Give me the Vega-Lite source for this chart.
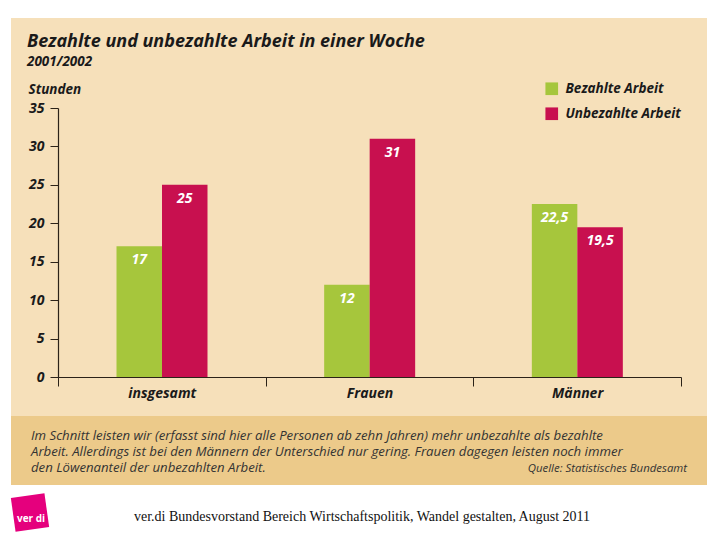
{
  "$schema": "https://vega.github.io/schema/vega-lite/v6.json",
  "background": "white",
  "padding": {"left": 10, "top": 18, "right": 14, "bottom": 0},
  "spacing": 0,
  "bounds": "flush",
  "config": {
    "view": {"stroke": null},
    "font": "Open Sans",
    "axis": {"domainColor": "#2b2218", "tickColor": "#2b2218", "labelColor": "#1a1a1a", "titleColor": "#1a1a1a"}
  },
  "vconcat": [
    {
      "width": 696,
      "height": 398,
      "view": {"fill": "#f6e0ba", "stroke": null},
      "title": {
        "text": "Bezahlte und unbezahlte Arbeit in einer Woche",
        "subtitle": "2001/2002",
        "anchor": "start",
        "frame": "group",
        "orient": "top",
        "offset": -50,
        "dx": 16,
        "font": "Open Sans",
        "fontSize": 18,
        "fontWeight": "bold",
        "fontStyle": "italic",
        "color": "#1a1a1a",
        "subtitleFont": "Open Sans",
        "subtitleFontSize": 13.5,
        "subtitleFontWeight": "bold",
        "subtitleFontStyle": "italic",
        "subtitleColor": "#1a1a1a",
        "subtitlePadding": 4
      },
      "data": {
        "values": [
          {"group": "insgesamt", "type": "Bezahlte Arbeit", "hours": 17, "label": "17"},
          {"group": "insgesamt", "type": "Unbezahlte Arbeit", "hours": 25, "label": "25"},
          {"group": "Frauen", "type": "Bezahlte Arbeit", "hours": 12, "label": "12"},
          {"group": "Frauen", "type": "Unbezahlte Arbeit", "hours": 31, "label": "31"},
          {"group": "Männer", "type": "Bezahlte Arbeit", "hours": 22.5, "label": "22,5"},
          {"group": "Männer", "type": "Unbezahlte Arbeit", "hours": 19.5, "label": "19,5"}
        ]
      },
      "encoding": {
        "x": {
          "field": "group",
          "type": "nominal",
          "sort": ["insgesamt", "Frauen", "Männer"],
          "scale": {"range": [47, 670], "paddingInner": 0, "paddingOuter": 0},
          "axis": {
            "title": null,
            "orient": "bottom",
            "offset": -39,
            "labelAngle": 0,
            "tickBand": "extent",
            "tickSize": 9,
            "labelPadding": 0,
            "labelFont": "Open Sans",
            "labelFontSize": 14,
            "labelFontWeight": "bold",
            "labelFontStyle": "italic",
            "domainWidth": 1.2,
            "tickWidth": 1
          }
        },
        "xOffset": {
          "field": "type",
          "type": "nominal",
          "sort": ["Bezahlte Arbeit", "Unbezahlte Arbeit"],
          "scale": {"range": [58.5, 149.5], "paddingInner": 0, "paddingOuter": 0}
        },
        "y": {
          "field": "hours",
          "type": "quantitative",
          "scale": {"domain": [0, 35], "range": [359, 90], "nice": false},
          "axis": {
            "values": [0, 5, 10, 15, 20, 25, 30, 35],
            "offset": -47,
            "grid": false,
            "tickSize": 8,
            "labelPadding": 6,
            "labelFont": "Open Sans",
            "labelFontSize": 14,
            "labelFontWeight": "bold",
            "labelFontStyle": "italic",
            "title": "Stunden",
            "titleAngle": 0,
            "titleAlign": "left",
            "titleBaseline": "alphabetic",
            "titleX": -30,
            "titleY": 75,
            "titleFont": "Open Sans",
            "titleFontSize": 13.5,
            "titleFontWeight": "bold",
            "titleFontStyle": "italic",
            "domainWidth": 1.2
          }
        }
      },
      "layer": [
        {
          "mark": {"type": "bar"},
          "encoding": {
            "color": {
              "field": "type",
              "type": "nominal",
              "sort": ["Bezahlte Arbeit", "Unbezahlte Arbeit"],
              "scale": {"range": ["#a6c63c", "#c8104f"]},
              "legend": {
                "title": null,
                "orient": "none",
                "legendX": 534,
                "legendY": 64,
                "symbolType": "square",
                "symbolSize": 160,
                "symbolStrokeWidth": 0,
                "symbolOpacity": 1,
                "labelFont": "Open Sans",
                "labelFontSize": 13.5,
                "labelFontWeight": "bold",
                "labelFontStyle": "italic",
                "labelColor": "#1a1a1a",
                "labelOffset": 7,
                "rowPadding": 10
              }
            }
          }
        },
        {
          "mark": {"type": "text", "color": "white", "fontSize": 14, "fontWeight": "bold", "fontStyle": "italic", "baseline": "middle", "dy": 14},
          "encoding": {"text": {"field": "label", "type": "nominal"}}
        }
      ]
    },
    {
      "width": 696,
      "height": 69,
      "view": {"fill": "#ecca8a", "stroke": null},
      "data": {
        "values": [
          {"line": 1, "part": "text", "t": "Im Schnitt leisten wir (erfasst sind hier alle Personen ab zehn Jahren) mehr unbezahlte als bezahlte"},
          {"line": 2, "part": "text", "t": "Arbeit. Allerdings ist bei den Männern der Unterschied nur gering. Frauen dagegen leisten noch immer"},
          {"line": 3, "part": "text", "t": "den Löwenanteil der unbezahlten Arbeit."},
          {"line": 3, "part": "source", "t": "Quelle: Statistisches Bundesamt"}
        ]
      },
      "encoding": {
        "x": {"field": "part", "type": "nominal", "scale": {"type": "point", "domain": ["text", "source"], "range": [20, 676], "padding": 0}, "axis": null},
        "y": {"field": "line", "type": "ordinal", "scale": {"type": "point", "range": [20, 52.4], "padding": 0}, "axis": null},
        "text": {"field": "t", "type": "nominal"}
      },
      "layer": [
        {
          "transform": [{"filter": "datum.part === 'text'"}],
          "mark": {"type": "text", "align": "left", "baseline": "middle", "fontSize": 13.2, "fontStyle": "italic", "color": "#333333"}
        },
        {
          "transform": [{"filter": "datum.part === 'source'"}],
          "mark": {"type": "text", "align": "right", "baseline": "middle", "fontSize": 11.4, "fontStyle": "italic", "color": "#333333", "dy": 1}
        }
      ]
    },
    {
      "width": 696,
      "height": 55,
      "data": {
        "values": [
          {"item": "logo", "t": "ver di"},
          {"item": "footer", "t": "ver.di Bundesvorstand Bereich Wirtschaftspolitik, Wandel gestalten, August 2011"}
        ]
      },
      "encoding": {
        "x": {"field": "item", "type": "nominal", "scale": {"type": "point", "domain": ["logo", "footer"], "range": [19, 351], "padding": 0}, "axis": null}
      },
      "layer": [
        {
          "transform": [{"filter": "datum.item === 'logo'"}],
          "mark": {"type": "point", "shape": "square", "filled": true, "size": 1150, "color": "#e5007d", "opacity": 1, "angle": -8}
        },
        {
          "transform": [{"filter": "datum.item === 'logo'"}],
          "mark": {"type": "text", "color": "white", "fontSize": 10, "fontWeight": "bold", "baseline": "middle", "dy": 6, "dx": 1},
          "encoding": {"text": {"field": "t", "type": "nominal"}}
        },
        {
          "transform": [{"filter": "datum.item === 'footer'"}],
          "mark": {"type": "text", "font": "Liberation Serif", "fontSize": 14, "color": "#111", "baseline": "middle", "dy": 4},
          "encoding": {"text": {"field": "t", "type": "nominal"}}
        }
      ]
    }
  ]
}
